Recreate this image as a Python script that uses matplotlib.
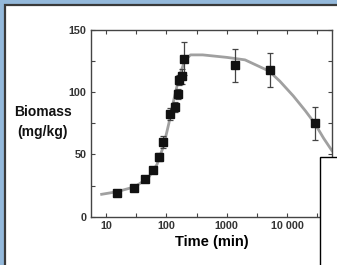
import numpy as np
import matplotlib.pyplot as plt
from matplotlib.patches import Rectangle
from matplotlib.ticker import FixedLocator, NullLocator

# ── data ─────────────────────────────────────────────────────────────────────
time_min = [15, 29, 44, 59, 75, 89, 114, 138, 153, 163, 180, 197, 1380, 5250, 28500]
biomass = [19, 23, 30, 37.5, 48, 60, 82.5, 88.5, 98.5, 109.5, 113, 127, 121.5, 118, 75]
biomass_err = [2, 2, 2, 2, 3, 5, 5, 4, 4, 4, 6, 13, 13, 13.5, 13]

fit_time = [8.5, 15, 30, 50, 70, 90, 110, 130, 150, 170, 200, 250, 400, 1000,
            2000, 5000, 7500, 12600, 20000, 28500, 40000, 55000]
fit_biomass = [18, 20, 24, 31, 42, 57, 75, 92, 105, 115, 125, 130, 130, 128,
               126, 117, 109, 97, 85, 75, 63, 53]

x_ticks = [10, 100, 1000, 10000]
x_labels = ['10', '100', '1000', '10 000']
x_minor = [10 ** 0.5, 10 ** 1.5, 10 ** 2.5, 10 ** 3.5, 10 ** 4.5]
y_ticks = [0, 50, 100, 150]
y_minor = [25, 75, 125]

plt.rcParams['font.family'] = ['Liberation Sans', 'DejaVu Sans']

W, H = 337, 265
fig = plt.figure(figsize=(W / 100, H / 100), dpi=100, facecolor='#94b9db')

# white slide panel with dark top/left border
panel = Rectangle((5 / W, -0.05), 1.1, 1 - 5 / H + 0.05, transform=fig.transFigure,
                  facecolor='white', edgecolor='#3a3a3a', lw=1.6, zorder=-5)
fig.add_artist(panel)

ax = fig.add_axes([90.7 / W, 1 - 216.7 / H, (332 - 90.7) / W, (216.7 - 30) / H])
ax.set_facecolor('none')

ax.plot(fit_time, fit_biomass, color='#a0a0a0', lw=2, zorder=2)
ax.errorbar(time_min, biomass, yerr=biomass_err, fmt='s', color='#111111',
            ms=6.4, ecolor='#444444', elinewidth=0.9, capsize=2, capthick=0.9,
            zorder=3)

ax.set_xscale('log')
ax.set_xlim(5.6, 55000)
ax.set_ylim(0, 150)
ax.xaxis.set_major_locator(FixedLocator(x_ticks))
ax.set_xticklabels(x_labels)
ax.xaxis.set_minor_locator(FixedLocator(x_minor))
ax.set_yticks(y_ticks)
ax.yaxis.set_minor_locator(FixedLocator(y_minor))

for s in ax.spines.values():
    s.set_color('#444444')
    s.set_linewidth(1.0)

ax.tick_params(which='both', direction='in', top=True, right=True,
               length=3, width=0.8, color='#444444')
ax.tick_params(axis='both', labelsize=7.8, labelcolor='#333333', pad=3)
for lab in ax.get_xticklabels() + ax.get_yticklabels():
    lab.set_fontweight('bold')

ax.set_xlabel('Time (min)', fontsize=10.5, fontweight='bold', labelpad=3)
fig.text(43 / W, 1 - 122 / H, 'Biomass\n(mg/kg)', ha='center', va='center',
         fontsize=10, fontweight='bold', linespacing=1.5, color='#111111')

# overlapping white box at lower right
box = Rectangle((320 / W, -0.05), 0.2, 1 - 157 / H + 0.05, transform=fig.transFigure,
                facecolor='white', edgecolor='black', lw=1.0, zorder=10)
fig.add_artist(box)

fig.savefig('out.png', dpi=100, facecolor=fig.get_facecolor())
